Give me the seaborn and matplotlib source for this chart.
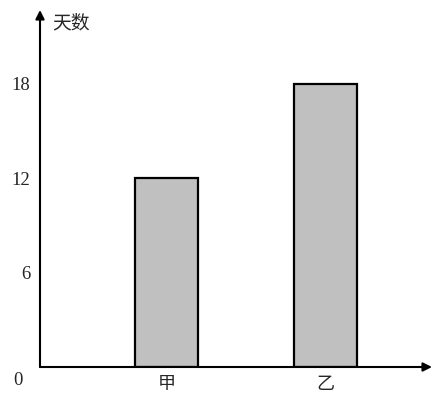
import matplotlib
matplotlib.use("Agg")
import matplotlib.pyplot as plt
import seaborn as sns
import pandas as pd

# data
categories = ["甲", "乙"]
days = [12, 18]
yticks = [6, 12, 18]

df = pd.DataFrame({"cat": categories, "days": days})

sns.set_style("white")
plt.rcParams["font.family"] = ["Liberation Serif", "Noto Sans CJK SC"]

fig = plt.figure(figsize=(4.36, 3.99), dpi=100)
ax = fig.add_axes([40 / 436, 32 / 399, 392 / 436, 357 / 399])

sns.barplot(data=df, x="cat", y="days", color="#c0c0c0", saturation=1,
            edgecolor="black", linewidth=1.6, width=0.4, ax=ax)

ax.set_xlim(-0.796, 1.670)
ax.set_ylim(0, 22.7)

# axes drawn as arrows, no frame
for s in ax.spines.values():
    s.set_visible(False)
arrow = dict(arrowstyle="-|>", lw=1.5, color="black", mutation_scale=13,
             shrinkA=0, shrinkB=0)
ax.annotate("", xy=(0, 1), xytext=(0, 0), xycoords="axes fraction", arrowprops=arrow)
ax.annotate("", xy=(1, 0), xytext=(0, 0), xycoords="axes fraction", arrowprops=arrow)

ax.set_yticks(yticks)
ax.set_yticklabels([str(t) for t in yticks], fontsize=13.5)
ax.tick_params(axis="y", length=0, pad=7)
ax.tick_params(axis="x", length=0, pad=6, labelsize=13)
for lab in ax.get_xticklabels():
    lab.set_family(["Noto Sans CJK SC"])
ax.set_xlabel("")
ax.set_ylabel("")

# origin label and y axis title
ax.annotate("0", xy=(0, 0), xycoords="axes fraction", xytext=(-16, -10),
            textcoords="offset points", ha="center", va="center", fontsize=13.5)
ax.annotate("天数", xy=(0, 1), xycoords="axes fraction", xytext=(9, -9),
            textcoords="offset points", ha="left", va="center", fontsize=13.5,
            family=["Noto Sans CJK SC"])

plt.savefig("out.png", dpi=100)
